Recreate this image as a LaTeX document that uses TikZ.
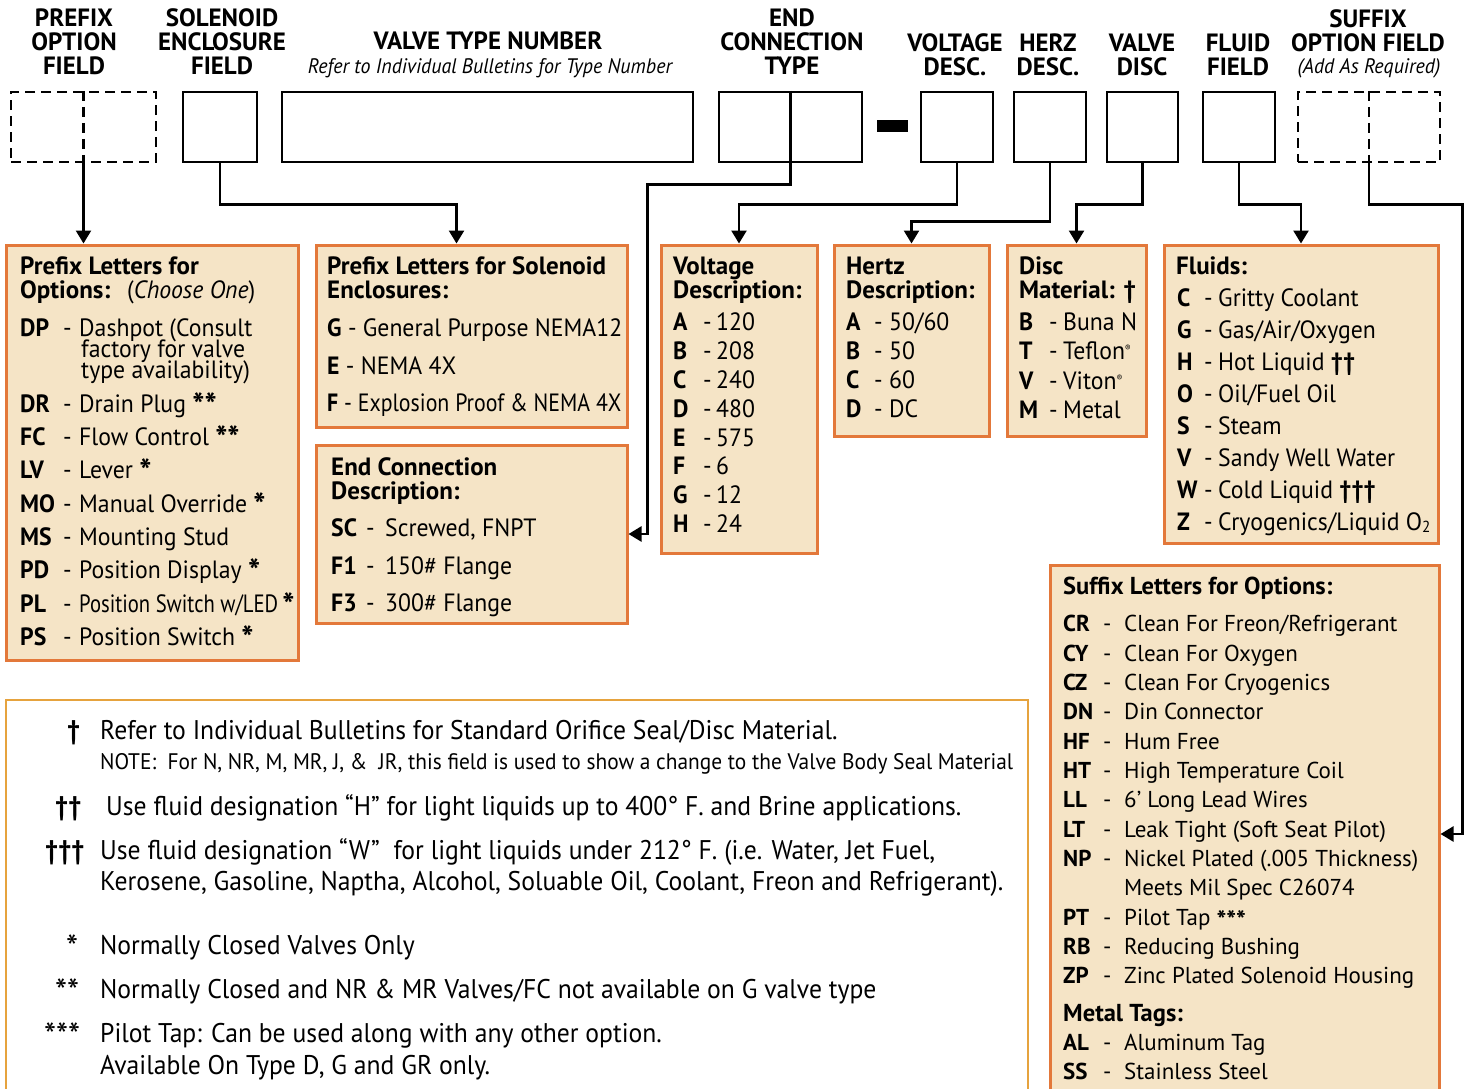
\documentclass[tikz,border=0pt]{standalone}
\usepackage{fontspec}
\usepackage{graphicx}
\setmainfont{PT Sans}
\newfontfamily\condf[FakeStretch=0.95]{PT Sans}
\usetikzlibrary{arrows.meta,positioning}

\definecolor{optfill}{HTML}{F5E4C6}
\definecolor{optline}{HTML}{E3783A}
\definecolor{noteline}{HTML}{E6A33E}

\newcommand{\astx}[1]{\smash{\raisebox{-5pt}{\fontsize{34}{34}\selectfont\bfseries #1}}}
\newcommand{\astxs}[1]{\smash{\raisebox{-4pt}{\fontsize{26}{26}\selectfont\bfseries #1}}}

\tikzset{
  fieldbox/.style={draw, line width=2.5pt, inner sep=0pt, minimum height=70pt},
  optbox/.style={draw=optline, fill=optfill, line width=3pt, inner sep=0pt},
  link/.style={line width=2.5pt, -{Triangle[width=15pt,length=13pt]}},
  headtxt/.style={font=\bfseries\fontsize{25}{24}\selectfont, align=center, inner sep=0pt},
  subtxt/.style={font=\condf\itshape\fontsize{21}{21}\selectfont, inner sep=0pt},
  ttltxt/.style={font=\bfseries\fontsize{25}{25}\selectfont, anchor=base west, inner sep=0pt},
  codetxt/.style={font=\condf\bfseries\fontsize{25}{25}\selectfont, anchor=base west, inner sep=0pt},
  itmtxt/.style={font=\condf\fontsize{25}{25}\selectfont, anchor=base west, inner sep=0pt},
  tightline/.style={text height=16pt, text depth=3pt},
  sfxtxt/.style={font=\fontsize{23}{23}\selectfont, anchor=base west, inner sep=0pt},
  sfxcode/.style={font=\bfseries\fontsize{23}{23}\selectfont, anchor=base west, inner sep=0pt},
  notetxt/.style={font=\condf\fontsize{27}{27}\selectfont, anchor=base west, inner sep=0pt},
}

\begin{document}
\begin{tikzpicture}[x=1pt, y=-1pt]
  \useasboundingbox (0,0) rectangle (1466,1088);
  \clip (0,0) rectangle (1466,1088);

  % headings
  \node[headtxt] (h-pre) at (74,42) {PREFIX\\OPTION\\FIELD};
  \node[headtxt] (h-sol) at (222,42) {SOLENOID\\ENCLOSURE\\FIELD};
  \node[headtxt] (h-vtn) at (488,41) {VALVE TYPE NUMBER};
  \node[subtxt] (h-vtn2) at (490,68) {Refer to Individual Bulletins for Type Number};
  \node[headtxt] (h-end) at (792,42) {END\\CONNECTION\\TYPE};
  \node[headtxt] (h-volt) at (955,55) {VOLTAGE\\DESC.};
  \node[headtxt] (h-herz) at (1048,55) {HERZ\\DESC.};
  \node[headtxt] (h-disc) at (1142,55) {VALVE\\DISC};
  \node[headtxt] (h-fluid) at (1238,55) {FLUID\\FIELD};
  \node[headtxt] (h-suf) at (1368,31) {SUFFIX\\OPTION FIELD};
  \node[subtxt] (h-suf2) at (1369,68) {(Add As Required)};

  % code fields
  \node[fieldbox, dashed, dash pattern=on 10pt off 6pt, minimum width=145pt] (pre) at (83.5,127) {};
  \node[fieldbox, minimum width=74pt] (sol) at (220,127) {};
  \node[fieldbox, minimum width=411pt] (vtn) at (487.5,127) {};
  \node[fieldbox, minimum width=143pt] (endc) at (790.5,127) {};
  \node[fill, minimum width=31pt, minimum height=12pt, inner sep=0pt] (minus) at (892.5,126) {};
  \node[fieldbox, minimum width=72pt] (volt) at (957,127) {};
  \node[fieldbox, minimum width=72pt] (herz) at (1050,127) {};
  \node[fieldbox, minimum width=71pt] (disc) at (1142.5,127) {};
  \node[fieldbox, minimum width=72pt] (fluid) at (1239,127) {};
  \node[fieldbox, dashed, dash pattern=on 10pt off 6pt, minimum width=142pt] (suf) at (1369,127) {};
  \draw[line width=2.5pt, dash pattern=on 10pt off 6pt] (pre.north) -- (pre.south);
  \draw[line width=2.5pt] (endc.north) -- (endc.south);
  \draw[line width=2.5pt, dash pattern=on 10pt off 6pt] (suf.north) -- (suf.south);

  % option boxes
  \node[optbox, minimum width=292pt, minimum height=415pt] (popt) at (152,452.5) {};
  \node[optbox, minimum width=311pt, minimum height=182pt] (encl) at (471.5,336) {};
  \node[optbox, minimum width=311pt, minimum height=178pt] (ecd) at (471.5,534) {};
  \node[optbox, minimum width=156pt, minimum height=308pt] (vdesc) at (739,399) {};
  \node[optbox, minimum width=155pt, minimum height=191pt] (hdesc) at (911.5,340.5) {};
  \node[optbox, minimum width=139pt, minimum height=191pt] (dmat) at (1076.5,340.5) {};
  \node[optbox, minimum width=274pt, minimum height=298pt] (fl) at (1301,394) {};
  \node[optbox, minimum width=389pt, minimum height=538pt] (sopt) at (1244.5,834) {};
  \node[draw=noteline, line width=2.5pt, minimum width=1022pt, minimum height=420pt, inner sep=0pt] (notes) at (517,910) {};

  % connectors
  \draw[link] (pre.south) -- (pre.south |- popt.north);
  \draw[link] (sol.south) -- ++(0,41) -| ([xshift=-15pt]encl.north);
  \draw[link] (endc.south) -- ++(0,21) -| ([xshift=19pt]ecd.east) -- (ecd.east);
  \draw[link] (volt.south) -- ++(0,41) -| (vdesc.north);
  \draw[link] (herz.south) -- ++(0,58) -| (hdesc.north);
  \draw[link] (disc.south) -- ++(0,41) -| (dmat.north);
  \draw[link] (fluid.south) -- ++(0,41) -| (fl.north);
  \draw[link] (suf.south) -- ++(0,41) -| ([xshift=22pt]sopt.east) -- (sopt.east);

  % prefix options
  \node[ttltxt] (popt-t1) at (20,274) {Prefix Letters for};
  \node[ttltxt] (popt-t2) at (20,298) {Options:};
  \node[itmtxt] (popt-t3) at (127,298) {(\textit{Choose One})};
  \foreach \y/\c/\t [count=\i] in {336/DP/Dashpot (Consult, 412/DR/Drain Plug \astx{**},
      445/FC/Flow Control \astx{**}, 478/LV/Lever \astx{*}, 512/MO/Manual Override \astx{*},
      545/MS/Mounting Stud, 578/PD/Position Display \astx{*},
      612/PL/{\scalebox{0.87}[1]{Position Switch w/LED}\,\astx{*}},
      645/PS/Position Switch \astx{*}}{
    \node[codetxt] (popt-c\i) at (20,\y) {\c};
    \node[itmtxt] (popt-d\i) at (63,\y) {-};
    \node[itmtxt, tightline] (popt-x\i) at (79,\y) {\t};
  }
  \node[itmtxt, tightline] (popt-x1b) at (81,357) {factory for valve};
  \node[itmtxt, tightline] (popt-x1c) at (81,378) {type availability)};

  % solenoid enclosures
  \node[ttltxt] (encl-t1) at (327,274) {Prefix Letters for Solenoid};
  \node[ttltxt] (encl-t2) at (327,298) {Enclosures:};
  \node[itmtxt] (encl-1) at (327,336) {\textbf{G} - General Purpose NEMA12};
  \node[itmtxt] (encl-2) at (327,374) {\textbf{E} - NEMA 4X};
  \node[itmtxt] (encl-3) at (327,411) {\scalebox{0.92}[1]{\textbf{F} - Explosion Proof \& NEMA 4X}};

  % end connection
  \node[ttltxt] (ecd-t1) at (331,475) {End Connection};
  \node[ttltxt] (ecd-t2) at (331,499) {Description:};
  \foreach \y/\c/\t [count=\i] in {536/SC/{Screwed, FNPT}, 574/F1/150\# Flange, 611/F3/300\# Flange}{
    \node[codetxt] (ecd-c\i) at (331,\y) {\c};
    \node[itmtxt] (ecd-d\i) at (366,\y) {-};
    \node[itmtxt] (ecd-x\i) at (385,\y) {\t};
  }

  % voltage
  \node[ttltxt] (vdesc-t1) at (673,274) {Voltage};
  \node[ttltxt] (vdesc-t2) at (673,298) {Description:};
  \foreach \y/\c/\t [count=\i] in {330/A/120, 359/B/208, 388/C/240, 417/D/480, 446/E/575, 474/F/6, 503/G/12, 532/H/24}{
    \node[codetxt] (vdesc-c\i) at (673,\y) {\c};
    \node[itmtxt] (vdesc-d\i) at (703,\y) {-};
    \node[itmtxt] (vdesc-x\i) at (716,\y) {\t};
  }

  % hertz
  \node[ttltxt] (hdesc-t1) at (846,274) {Hertz};
  \node[ttltxt] (hdesc-t2) at (846,298) {Description:};
  \foreach \y/\c/\t [count=\i] in {330/A/{50/60}, 359/B/50, 388/C/60, 417/D/DC}{
    \node[codetxt] (hdesc-c\i) at (846,\y) {\c};
    \node[itmtxt] (hdesc-d\i) at (874,\y) {-};
    \node[itmtxt] (hdesc-x\i) at (889,\y) {\t};
  }

  % disc material
  \node[ttltxt] (dmat-t1) at (1019,274) {Disc};
  \node[ttltxt] (dmat-t2) at (1019,298) {Material: †};
  \foreach \y/\c/\t [count=\i] in {330/B/Buna N, 359/T/Teflon\raisebox{8pt}{\fontsize{9}{9}\selectfont ®},
      389/V/Viton\raisebox{8pt}{\fontsize{9}{9}\selectfont ®}, 418/M/Metal}{
    \node[codetxt] (dmat-c\i) at (1019,\y) {\c};
    \node[itmtxt] (dmat-d\i) at (1049,\y) {-};
    \node[itmtxt] (dmat-x\i) at (1063,\y) {\t};
  }

  % fluids
  \node[ttltxt] (fl-t1) at (1176,274) {Fluids:};
  \foreach \y/\c/\t [count=\i] in {306/C/Gritty Coolant, 338/G/{Gas/Air/Oxygen}, 370/H/Hot Liquid {\bfseries ††},
      402/O/{Oil/Fuel Oil}, 434/S/Steam, 466/V/Sandy Well Water, 498/W/Cold Liquid {\bfseries †††},
      530/Z/{Cryogenics/Liquid O\raisebox{-2pt}{\fontsize{16}{16}\selectfont 2}}}{
    \node[codetxt] (fl-c\i) at (1177,\y) {\c};
    \node[itmtxt] (fl-d\i) at (1204,\y) {-};
    \node[itmtxt] (fl-x\i) at (1218,\y) {\t};
  }

  % suffix options
  \node[sfxcode, font=\bfseries\fontsize{24.5}{24.5}\selectfont] (sopt-t1) at (1063,594) {Suffix Letters for Options:};
  \foreach \y/\c/\t [count=\i] in {631/CR/{Clean For Freon/Refrigerant}, 661/CY/Clean For Oxygen,
      690/CZ/Clean For Cryogenics, 719/DN/Din Connector, 749/HF/Hum Free, 778/HT/High Temperature Coil,
      807/LL/6’ Long Lead Wires, 837/LT/Leak Tight (Soft Seat Pilot), 866/NP/Nickel Plated (.005 Thickness),
      925/PT/Pilot Tap \astxs{***}, 954/RB/Reducing Bushing, 983/ZP/Zinc Plated Solenoid Housing,
      1050/AL/Aluminum Tag, 1079/SS/Stainless Steel}{
    \node[sfxcode] (sopt-c\i) at (1063,\y) {\c};
    \node[sfxtxt] (sopt-d\i) at (1103,\y) {-};
    \node[sfxtxt] (sopt-x\i) at (1124,\y) {\t};
  }
  \node[sfxtxt] (sopt-x9b) at (1124,895) {Meets Mil Spec C26074};
  \node[sfxcode, font=\bfseries\fontsize{24.5}{24.5}\selectfont] (sopt-t2) at (1063,1021) {Metal Tags:};

  % notes
  \node[notetxt, font=\condf\bfseries\fontsize{27}{27}\selectfont] (n-s1) at (67,739) {†};
  \node[notetxt] (n-1) at (100,739) {Refer to Individual Bulletins for Standard Orifice Seal/Disc Material.};
  \node[notetxt, font=\condf\fontsize{22.5}{22.5}\selectfont] (n-1b) at (100,769) {NOTE:\ \ For N, NR, M, MR, J, \&\ \ JR, this field is used to show a change to the Valve Body Seal Material};
  \node[notetxt, font=\condf\bfseries\fontsize{27}{27}\selectfont] (n-s2) at (55,815) {††};
  \node[notetxt] (n-2) at (106,815) {Use fluid designation “H” for light liquids up to 400° F. and Brine applications.};
  \node[notetxt, font=\condf\bfseries\fontsize{27}{27}\selectfont] (n-s3) at (45,859) {†††};
  \node[notetxt] (n-3) at (100,859) {Use fluid designation “W”\ \ for light liquids under 212° F. (i.e. Water, Jet Fuel,};
  \node[notetxt] (n-3b) at (100,890) {Kerosene, Gasoline, Naptha, Alcohol, Soluable Oil, Coolant, Freon and Refrigerant).};
  \node[notetxt] (n-s4) at (66,960) {\fontsize{36}{36}\selectfont *};
  \node[notetxt] (n-4) at (100,954) {Normally Closed Valves Only};
  \node[notetxt] (n-s5) at (55,1004) {\fontsize{36}{36}\selectfont **};
  \node[notetxt] (n-5) at (100,998) {Normally Closed and NR \& MR Valves/FC not available on G valve type};
  \node[notetxt] (n-s6) at (44,1048) {\fontsize{36}{36}\selectfont ***};
  \node[notetxt] (n-6) at (100,1042) {Pilot Tap: Can be used along with any other option.};
  \node[notetxt] (n-6b) at (100,1074) {Available On Type D, G and GR only.};
\end{tikzpicture}
\end{document}
